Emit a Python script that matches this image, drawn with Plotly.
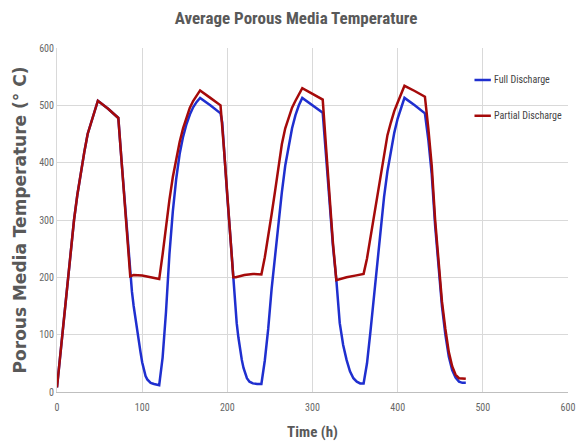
import plotly.graph_objects as go

# ---- data ----
partial_x = [0, 4, 8, 12, 16, 20, 24, 28, 32, 36, 40, 44, 48, 60, 72, 76, 80, 84, 86,
             90, 100, 110, 120,
             124, 128, 132, 136, 140, 144, 148, 152, 156, 160, 164, 168, 180, 192,
             196, 200, 204, 207, 210, 220, 230, 240,
             244, 248, 252, 256, 260, 264, 268, 272, 276, 280, 284, 288, 300, 312,
             316, 320, 324, 328, 332, 340, 350, 360,
             364, 368, 372, 376, 380, 384, 388, 392, 396, 400, 404, 408, 420, 432,
             436, 440, 444, 448, 452, 456, 460, 464, 468, 472, 476, 480]
partial_y = [8, 68, 128, 193, 248, 300, 345, 383, 418, 450, 470, 489, 508, 494, 478, 399, 320, 240, 202,
             204, 203, 200, 197,
             240, 290, 335, 375, 408, 436, 460, 480, 496, 508, 518, 526, 513, 500,
             425, 345, 262, 200, 200, 204, 206, 205,
             235, 270, 310, 350, 392, 432, 460, 480, 496, 508, 518, 530, 520, 510,
             425, 340, 260, 195, 197, 200, 203, 206,
             233, 270, 306, 343, 380, 415, 448, 470, 490, 505, 520, 534, 525, 515,
             460, 395, 300, 222, 158, 110, 70, 45, 30, 24, 23, 23]

full_x = [0, 4, 8, 12, 16, 20, 24, 28, 32, 36, 40, 44, 48, 60, 72, 76, 80, 84, 86,
          88, 90, 92, 94, 96, 98, 100, 102, 104, 106, 108, 110, 114, 118, 120,
          124, 128, 132, 136, 140, 144, 148, 152, 156, 160, 164, 168, 180, 192,
          194, 196, 200, 204, 207, 209, 211, 213, 215, 217, 219, 221, 223, 226, 230, 235, 240,
          244, 248, 252, 256, 260, 264, 268, 272, 276, 280, 284, 288, 300, 312,
          316, 320, 324, 328, 332, 336, 340, 344, 348, 352, 356, 360,
          364, 368, 372, 376, 380, 384, 388, 392, 396, 400, 404, 408, 420, 432,
          436, 440, 444, 448, 452, 456, 460, 464, 468, 472, 476, 480]
full_y = [8, 68, 128, 193, 248, 300, 345, 383, 418, 450, 470, 489, 508, 494, 478, 399, 320, 240, 200,
          175, 150, 128, 108, 88, 70, 52, 38, 28, 22, 18, 16, 14, 13, 12,
          60, 140, 240, 315, 372, 415, 445, 467, 484, 497, 506, 513, 500, 486,
          470, 420, 340, 262, 200, 160, 120, 95, 73, 56, 42, 32, 24, 18, 15, 14, 14,
          55, 110, 180, 240, 295, 348, 395, 430, 460, 483, 500, 513, 500, 487,
          410, 330, 255, 195, 120, 82, 56, 36, 24, 18, 15, 15,
          50, 105, 165, 228, 290, 340, 385, 420, 452, 477, 497, 513, 500, 486,
          440, 380, 290, 212, 150, 100, 62, 38, 25, 18, 16, 16]

x_ticks = [0, 100, 200, 300, 400, 500, 600]
y_ticks = [0, 100, 200, 300, 400, 500, 600]

series_names = ["Full Discharge", "Partial Discharge"]
series_colors = ["#1f2fcf", "#a50a0a"]

NARROW = "Roboto Condensed, Liberation Sans Narrow, sans-serif"
GREY = "#595959"

fig = go.Figure()
fig.add_trace(go.Scatter(x=full_x, y=full_y, mode="lines", name=series_names[0],
                         line=dict(color=series_colors[0], width=2.5), showlegend=False))
fig.add_trace(go.Scatter(x=partial_x, y=partial_y, mode="lines", name=series_names[1],
                         line=dict(color=series_colors[1], width=2.5), showlegend=False))

# manual legend (short keys as in the reference)
legend_y = [0.907, 0.803]
for name, col, ly in zip(series_names, series_colors, legend_y):
    fig.add_shape(type="line", xref="paper", yref="paper",
                  x0=0.817, x1=0.849, y0=ly, y1=ly,
                  line=dict(color=col, width=2.5))
    fig.add_annotation(xref="paper", yref="paper", x=0.851, y=ly, text=name,
                       showarrow=False, xanchor="left", yanchor="middle",
                       font=dict(family=NARROW, size=10, color="#444444"))

fig.update_layout(
    width=576, height=441,
    margin=dict(l=57, r=8, t=48, b=49),
    paper_bgcolor="white", plot_bgcolor="white",
    title=dict(text="<b>Average Porous Media Temperature</b>", x=0.514, xanchor="center",
               y=0.96, yanchor="middle",
               font=dict(family=NARROW, size=17, color=GREY)),
    xaxis=dict(range=[0, 600], tickvals=x_ticks, showgrid=True, gridcolor="#d9d9d9",
               gridwidth=1, zeroline=False, showline=True, linecolor="#bfbfbf",
               ticks="", ticklabelstandoff=6, automargin=False,
               tickfont=dict(family=NARROW, size=10, color="#666666"),
               title=dict(text="<b>Time (h)</b>", standoff=14,
                          font=dict(family=NARROW, size=15, color=GREY))),
    yaxis=dict(range=[0, 600], tickvals=y_ticks, showgrid=True, gridcolor="#d9d9d9",
               gridwidth=1, zeroline=False, showline=True, linecolor="#d9d9d9",
               ticks="", automargin=False,
               tickfont=dict(family=NARROW, size=10, color="#666666"),
               title=dict(text="<b>Porous Media Temperature (° C)</b>", standoff=8,
                          font=dict(family="DejaVu Sans, sans-serif", size=17,
                                    color=GREY))),
)

fig.write_html("out.html")
